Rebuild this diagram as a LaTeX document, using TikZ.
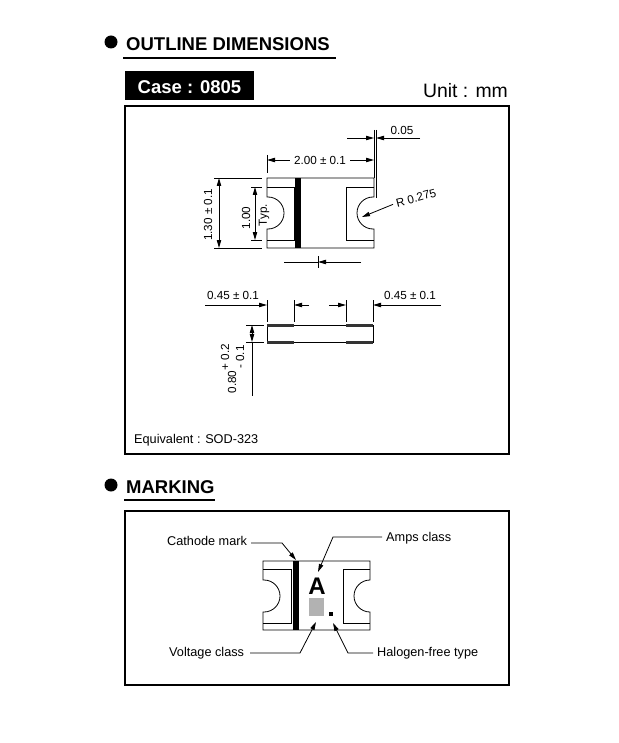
\documentclass[tikz,border=0pt]{standalone}
\usepackage{fontspec}
\setmainfont{Liberation Sans}
\usetikzlibrary{arrows.meta}

\tikzset{
	thinline/.style={black, line width=0.8pt},
	dimarrow/.style={black, line width=0.8pt, -{Triangle[length=8pt, width=4.4pt]}},
	dimboth/.style={black, line width=0.8pt, {Triangle[length=8pt, width=4.4pt]}-{Triangle[length=8pt, width=4.4pt]}},
	dimtext/.style={font=\fontsize{11.7}{12}\selectfont, inner sep=0pt},
	marktext/.style={font=\fontsize{12.7}{13}\selectfont, inner sep=0pt},
	headtext/.style={font=\fontsize{18.5}{20}\selectfont\bfseries, inner sep=0pt, anchor=west},
	framebox/.style={black, line width=1.6pt},
}

\begin{document}
\begin{tikzpicture}[x=1pt, y=-1pt]
		\useasboundingbox (0,0) rectangle (618,743);

		% heading
		\fill[black] (111,42) circle (6.5);
		\node[headtext] (outline) at (126,44) {OUTLINE DIMENSIONS};
		\draw[black, line width=1.8pt] (123,58) -- (336,58);
		\node[fill=black, minimum width=129pt, minimum height=29pt, inner sep=0pt] (casebox) at (189.5,85.5) {};
		\node[font=\fontsize{18.5}{20}\selectfont\bfseries, text=white, inner sep=0pt] (casetext) at (189.5,87) {Case : 0805};
		\node[font=\fontsize{19.4}{20}\selectfont, inner sep=0pt] (unit) at (465.5,91) {Unit : mm};
		\draw[framebox] (125,106) rectangle (509,454);
		\node[marktext, anchor=west] (equiv) at (134,440.5) {Equivalent : SOD-323};

		% top view
		\draw[thinline] (267,197) -- (267,178) -- (374,178) -- (374,197) -- (373,197) arc (-90:-270:16) -- (374,229) -- (374,248) -- (267,248) -- (267,229) -- (268,229) arc (90:-90:16) -- cycle;
		\draw[thinline] (267,187) -- (294,187) -- (294,240) -- (267,240);
		\draw[thinline] (374,187) -- (346,187) -- (346,240) -- (374,240);
		\fill[black] (295,178) rectangle (300.5,248);

		% 2.00 and 0.05
		\draw[thinline] (267,155) -- (267,173);
		\draw[thinline] (374,130) -- (374,178);
		\draw[thinline] (376,130) -- (376,198);
		\node[dimtext] (lenlabel) at (320,160) {2.00 ± 0.1};
		\draw[dimarrow] (lenlabel.west) ++(-4,0) -- (267,160);
		\draw[dimarrow] (lenlabel.east) ++(4,0) -- (374,160);
		\node[dimtext] (gaplabel) at (402,130) {0.05};
		\draw[dimarrow] (347,138) -- (374,138);
		\draw[dimarrow] (420,138) -- (376,138);

		% 1.30 and 1.00
		\draw[thinline] (214,178) -- (262,178);
		\draw[thinline] (214,248) -- (262,248);
		\draw[dimboth] (219,178) -- (219,248);
		\node[dimtext, rotate=90] (widlabel) at (208,215) {1.30 ± 0.1};
		\draw[thinline] (251,187) -- (262,187);
		\draw[thinline] (251,240) -- (262,240);
		\draw[dimboth] (255,187) -- (255,240);
		\node[dimtext, rotate=90] (padlabel) at (246,218) {1.00};
		\node[dimtext, rotate=90] (typlabel) at (264,215) {Typ.};

		% radius
		\node[dimtext, rotate=15] (radlabel) at (416,198) {R 0.275};
		\draw[dimarrow] (radlabel.west) ++(-3,1) -- (362,217);

		% cathode arrow under top view
		\draw[thinline] (284,262) -- (318,262);
		\draw[thinline] (318,256) -- (318,268);
		\draw[dimarrow] (361,262) -- (318,262);

		% side view
		\draw[thinline] (267,325) rectangle (373,342);
		\foreach \xa/\xb in {267/294, 346/373} {
			\fill[black!80] (\xa,324) rectangle (\xb,327);
			\fill[black!80] (\xa,341) rectangle (\xb,343.5);
		}
		\foreach \xa in {267, 294, 346, 373} {
			\draw[thinline] (\xa,300) -- (\xa,322);
		}
		\node[dimtext] (padleft) at (233,295) {0.45 ± 0.1};
		\node[dimtext] (padright) at (410,295) {0.45 ± 0.1};
		\draw[dimarrow] (205,305) -- (267,305);
		\draw[dimarrow] (309,305) -- (294,305);
		\draw[dimarrow] (329,305) -- (346,305);
		\draw[dimarrow] (441,305) -- (373,305);

		% 0.80
		\draw[thinline] (246,325) -- (264,325);
		\draw[thinline] (246,342) -- (264,342);
		\draw[dimboth] (252,325) -- (252,342);
		\draw[thinline] (252,342) -- (252,396);
		\node[dimtext, rotate=90] (thklabel) at (232,382) {0.80};
		\node[dimtext, rotate=90] (thkplus) at (225,357) {+ 0.2};
		\node[dimtext, rotate=90] (thkminus) at (240,357) {- 0.1};

		% marking
		\fill[black] (111,485) circle (6.5);
		\node[headtext] (marking) at (126,487) {MARKING};
		\draw[black, line width=1.8pt] (124,500) -- (215,500);
		\draw[framebox] (125,511) rectangle (509,685);

		\draw[thinline] (263,580) -- (263,561) -- (370,561) -- (370,580) arc (-90:-270:16) -- (370,630) -- (263,630) -- (263,612) -- (264,612) arc (90:-90:16) -- cycle;
		\draw[thinline] (263,569) -- (291,569) -- (291,623) -- (263,623);
		\draw[thinline] (370,569) -- (343,569) -- (343,623) -- (370,623);
		\fill[black] (293,561) rectangle (299,630);
		\node[font=\fontsize{24}{24}\selectfont\bfseries, inner sep=0pt] (classA) at (317,586) {A};
		\fill[black!30] (309,598) rectangle (324,616);
		\fill[black] (328.5,612) rectangle (333,616);

		\node[marktext, anchor=west] (cathode) at (167,541) {Cathode mark};
		\node[marktext, anchor=west] (amps) at (386,538) {Amps class};
		\node[marktext, anchor=west] (voltage) at (169,653) {Voltage class};
		\node[marktext, anchor=west] (halogen) at (377,653) {Halogen-free type};
		\coordinate (cathodetip) at (296,560);
		\coordinate (ampstip) at (318,572);
		\coordinate (voltagetip) at (316,622);
		\coordinate (halogentip) at (333,623);
		\draw[dimarrow] (cathode.east) ++(4,2) -- (282,543) -- (cathodetip);
		\draw[dimarrow] (amps.west) ++(-4,-1) -- (333,537) -- (ampstip);
		\draw[dimarrow] (voltage.east) ++(6,0) -- (300,653) -- (voltagetip);
		\draw[dimarrow] (halogen.west) ++(-4,0) -- (348,653) -- (halogentip);

	\end{tikzpicture}
\end{document}
